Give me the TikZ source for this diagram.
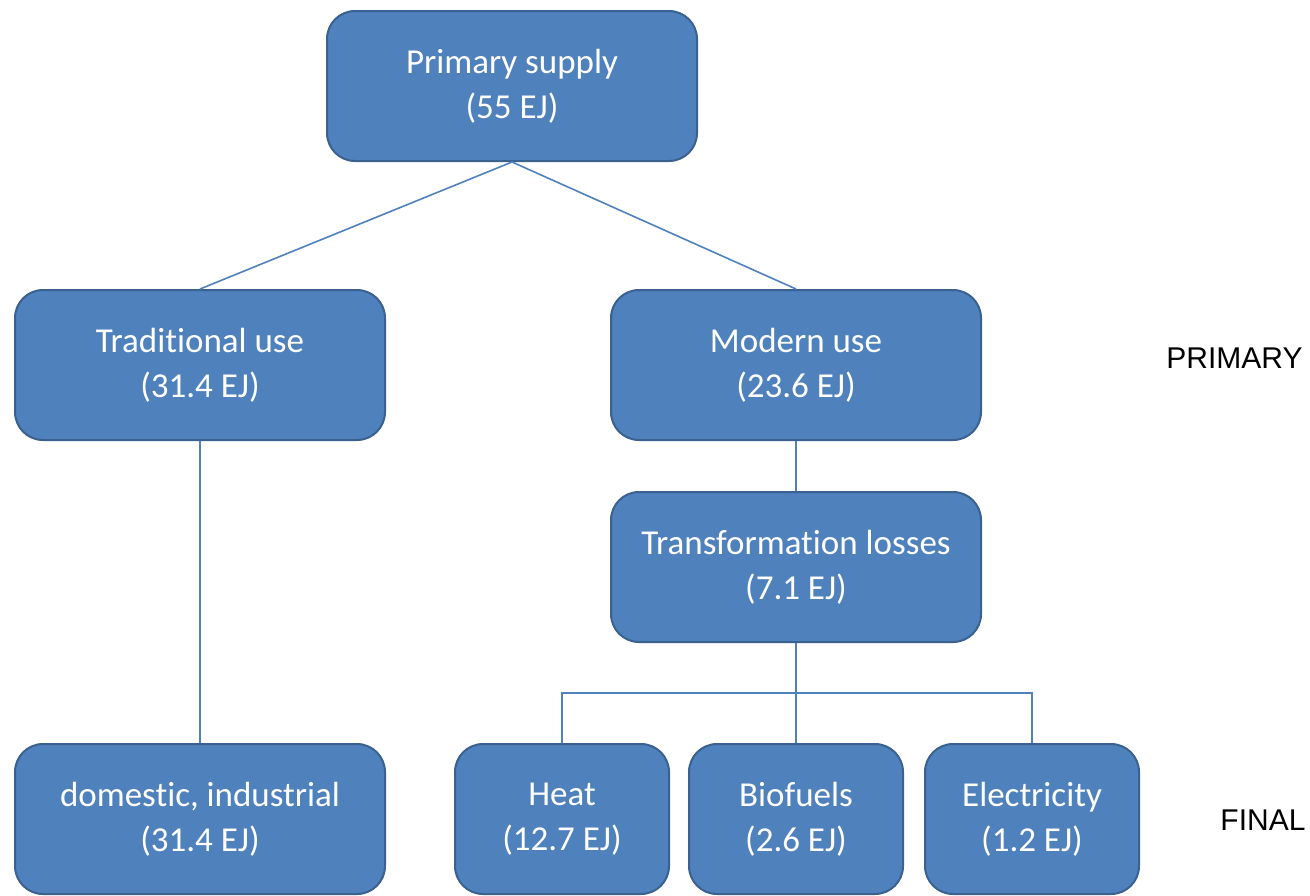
\documentclass[tikz,border=0pt]{standalone}
\usepackage{fontspec}
\usepackage{tikz}
\usetikzlibrary{positioning}

\newfontfamily\boxfont[Ligatures=NoCommon]{Carlito}
\newfontfamily\levelfont{Liberation Sans}

\definecolor{boxfill}{HTML}{4F81BD}
\definecolor{boxline}{HTML}{3A6190}

\begin{document}
\begin{tikzpicture}[
    x=0.5pt,
    y=-0.5pt,
    flowbox/.style={
        draw=boxline,
        line width=1pt,
        fill=boxfill,
        rounded corners=14pt,
        text=white,
        align=center,
        font=\boxfont\fontsize{17.5}{22.5}\selectfont,
        minimum width=185pt,
        minimum height=75pt,
        inner sep=0pt
    },
    smallbox/.style={
        flowbox,
        minimum width=107pt
    },
    link/.style={
        draw=boxfill,
        line width=0.8pt
    },
    levellabel/.style={
        font=\levelfont\fontsize{15}{18}\selectfont,
        anchor=west,
        inner sep=0pt
    }
]

% Canvas
\useasboundingbox (0,0) rectangle (1310,895);

% Top of the tree
\node[flowbox] (supply) at (512,86) {Primary supply\\(55 EJ)};

% Primary split
\node[flowbox] (trad) at (200,365) {Traditional use\\(31.4 EJ)};
\node[flowbox] (modern) at (796,365) {Modern use\\(23.6 EJ)};

% Conversion step
\node[flowbox] (losses) at (796,567) {Transformation losses\\(7.1 EJ)};

% Final uses
\node[flowbox] (domestic) at (200,819) {domestic, industrial\\(31.4 EJ)};
\node[smallbox] (heat) at (562,819) {Heat\\(12.7 EJ)};
\node[smallbox] (biofuel) at (796,819) {Biofuels\\(2.6 EJ)};
\node[smallbox] (power) at (1032,819) {Electricity\\(1.2 EJ)};

% Level labels
\node[levellabel] (lvlprimary) at (1166,358) {PRIMARY};
\node[levellabel] (lvlfinal) at (1220,820) {FINAL};

% Connectors
\draw[link] (supply.south) -- (trad.north);
\draw[link] (supply.south) -- (modern.north);
\draw[link] (trad.south) -- (domestic.north);
\draw[link] (modern.south) -- (losses.north);

\coordinate (fork) at (796,693);
\draw[link] (losses.south) -- (biofuel.north);
\draw[link] (heat.north) |- (fork) -| (power.north);

\end{tikzpicture}
\end{document}
